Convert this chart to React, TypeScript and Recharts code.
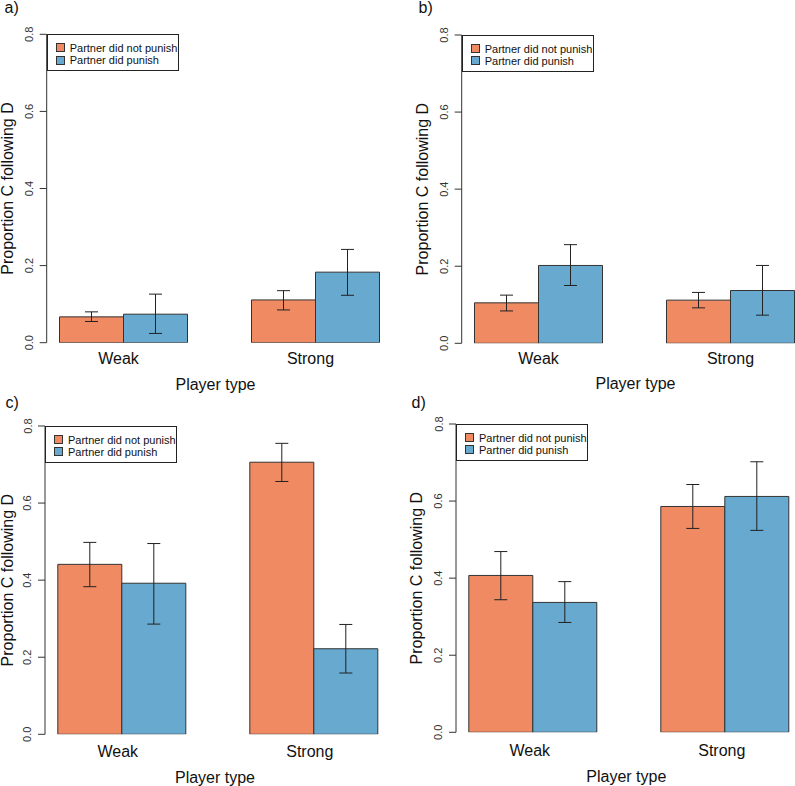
import React from 'react';
import { BarChart, Bar, XAxis, YAxis, ErrorBar, Legend } from 'recharts';

const categories = ['Weak', 'Strong'];
const yTicks = [0, 0.2, 0.4, 0.6, 0.8];
const seriesNames = ['Partner did not punish', 'Partner did punish'];
const panelLabels = ['a)', 'b)', 'c)', 'd)'];
const xTitle = 'Player type';
const yTitle = 'Proportion C following D';

// panel a
const aNotPunish = [0.067, 0.111];
const aNotPunishLow = [0.055, 0.085];
const aNotPunishHigh = [0.080, 0.135];
const aPunish = [0.074, 0.183];
const aPunishLow = [0.024, 0.123];
const aPunishHigh = [0.126, 0.242];

// panel b
const bNotPunish = [0.105, 0.112];
const bNotPunishLow = [0.084, 0.092];
const bNotPunishHigh = [0.125, 0.132];
const bPunish = [0.202, 0.137];
const bPunishLow = [0.150, 0.073];
const bPunishHigh = [0.256, 0.202];

// panel c
const cNotPunish = [0.441, 0.706];
const cNotPunishLow = [0.383, 0.656];
const cNotPunishHigh = [0.498, 0.755];
const cPunish = [0.392, 0.222];
const cPunishLow = [0.286, 0.159];
const cPunishHigh = [0.495, 0.285];

// panel d
const dNotPunish = [0.407, 0.586];
const dNotPunishLow = [0.344, 0.529];
const dNotPunishHigh = [0.469, 0.643];
const dPunish = [0.337, 0.612];
const dPunishLow = [0.285, 0.524];
const dPunishHigh = [0.391, 0.702];

const ORANGE = '#EF8A62';
const BLUE = '#67A9CF';
const INK = '#222';
const FONT = '"Liberation Sans", Arial, Helvetica, sans-serif';

function buildRows(np: number[], npLo: number[], npHi: number[], p: number[], pLo: number[], pHi: number[]) {
  return categories.map((c, i) => ({
    name: c,
    notPunish: np[i],
    punish: p[i],
    errNotPunish: [np[i] - npLo[i], npHi[i] - np[i]],
    errPunish: [p[i] - pLo[i], pHi[i] - p[i]],
  }));
}

const panelRows = [
  buildRows(aNotPunish, aNotPunishLow, aNotPunishHigh, aPunish, aPunishLow, aPunishHigh),
  buildRows(bNotPunish, bNotPunishLow, bNotPunishHigh, bPunish, bPunishLow, bPunishHigh),
  buildRows(cNotPunish, cNotPunishLow, cNotPunishHigh, cPunish, cPunishLow, cPunishHigh),
  buildRows(dNotPunish, dNotPunishLow, dNotPunishHigh, dPunish, dPunishLow, dPunishHigh),
];

const layouts = [
  { left: 0, top: 0, width: 397, height: 396, axisX: 46.7, plotTop: 34.3, plotBottom: 342.7, labelX: 4.5, labelY: 13.3, tickBase: 21.3, tickDx: -5, titleBase: 47.3, titleX: 215.5, yTitleOff: 33.4 },
  { left: 400, top: 0, width: 395, height: 396, axisX: 461.7, plotTop: 35, plotBottom: 343.3, labelX: 418.5, labelY: 13.3, tickBase: 20.7, tickDx: 0, titleBase: 45.9, titleX: 635.5, yTitleOff: 33.4 },
  { left: 0, top: 390, width: 397, height: 396, axisX: 45, plotTop: 426, plotBottom: 734.3, labelX: 5.5, labelY: 408, tickBase: 22.4, tickDx: -4, titleBase: 48.2, titleX: 215, yTitleOff: 32.4 },
  { left: 400, top: 390, width: 395, height: 396, axisX: 456, plotTop: 424, plotBottom: 732.3, labelX: 411.5, labelY: 408, tickBase: 23.4, tickDx: -3, titleBase: 49.2, titleX: 626.3, yTitleOff: 34.3 },
];

const BAR = 64;

function LegendBox() {
  const items = [
    { name: seriesNames[0], color: ORANGE },
    { name: seriesNames[1], color: BLUE },
  ];
  return (
    <div
      style={{
        position: 'relative',
        width: 132,
        height: 37,
        boxSizing: 'border-box',
        border: `1px solid ${INK}`,
        background: '#fff',
        fontFamily: FONT,
        fontSize: 11,
        color: '#111',
      }}
    >
      {items.map((it, i) => (
        <div key={it.name} style={{ position: 'absolute', left: 8, top: 6.5 + i * 12.4, height: 12, display: 'flex', alignItems: 'center', whiteSpace: 'nowrap' }}>
          <span style={{ display: 'inline-block', width: 7, height: 7, background: it.color, border: '1px solid #333', marginRight: 5 }} />
          <span style={{ lineHeight: '12px' }}>{it.name}</span>
        </div>
      ))}
    </div>
  );
}

function Panel({ idx }: { idx: number }) {
  const L = layouts[idx];
  const rows = panelRows[idx];
  const yAxisW = L.axisX - L.left;
  const mTop = L.plotTop - L.top;
  const localBottom = L.plotBottom - L.top;
  const xAxisH = L.height - localBottom;
  const plotW = L.width - yAxisW;
  const padL = -0.3 * BAR;
  const padR = plotW - (6 * BAR - 0.3 * BAR);
  const plotH = L.plotBottom - L.plotTop;

  return (
    <div style={{ position: 'absolute', left: L.left, top: L.top, width: L.width, height: L.height, fontFamily: FONT }}>
      <BarChart
        width={L.width}
        height={L.height}
        data={rows}
        margin={{ top: mTop, right: 0, bottom: 0, left: 0 }}
        barGap={0}
        barSize={BAR}
        style={{ overflow: 'visible' }}
      >
        <XAxis
          dataKey="name"
          height={xAxisH}
          axisLine={false}
          tickLine={false}
          padding={{ left: padL, right: padR }}
          interval={0}
          tick={(p: any) => (
            <text x={p.x + L.tickDx} y={localBottom + L.tickBase} textAnchor="middle" fontSize={16} fill="#111" fontFamily={FONT}>
              {p.payload.value}
            </text>
          )}
          label={() => (
            <text x={L.titleX - L.left} y={localBottom + L.titleBase} textAnchor="middle" fontSize={16} fill="#111" fontFamily={FONT}>
              {xTitle}
            </text>
          )}
        />
        <YAxis
          width={yAxisW}
          domain={[0, 0.8]}
          ticks={yTicks}
          type="number"
          allowDataOverflow
          tickSize={7}
          tickMargin={0}
          axisLine={{ stroke: '#333', strokeWidth: 1 }}
          tickLine={{ stroke: '#333', strokeWidth: 1 }}
          tick={(p: any) => {
            const tx = yAxisW - 13.5;
            return (
              <text x={tx} y={p.y} transform={`rotate(-90, ${tx}, ${p.y})`} textAnchor="middle" fontSize={11} fill="#333" fontFamily={FONT}>
                {Number(p.payload.value).toFixed(1)}
              </text>
            );
          }}
          label={() => {
            const tx = yAxisW - L.yTitleOff;
            const ty = mTop + plotH / 2;
            return (
              <text x={tx} y={ty} transform={`rotate(-90, ${tx}, ${ty})`} textAnchor="middle" fontSize={16} fill="#111" fontFamily={FONT}>
                {yTitle}
              </text>
            );
          }}
        />
        <Legend
          layout="horizontal"
          verticalAlign="middle"
          align="center"
          wrapperStyle={{ position: 'absolute', left: yAxisW, top: mTop, width: 132, height: 37 }}
          content={() => <LegendBox />}
        />
        <Bar dataKey="notPunish" name={seriesNames[0]} fill={ORANGE} stroke="#333" strokeWidth={1} isAnimationActive={false}>
          <ErrorBar dataKey="errNotPunish" width={6.5} stroke={INK} strokeWidth={1} />
        </Bar>
        <Bar dataKey="punish" name={seriesNames[1]} fill={BLUE} stroke="#333" strokeWidth={1} isAnimationActive={false}>
          <ErrorBar dataKey="errPunish" width={6.5} stroke={INK} strokeWidth={1} />
        </Bar>
      </BarChart>
      <svg width={L.width} height={40} style={{ position: 'absolute', left: 0, top: 0, pointerEvents: 'none', overflow: 'visible' }}>
        <text x={L.labelX - L.left} y={L.labelY - L.top} fontSize={16} fill="#111" fontFamily={FONT}>
          {panelLabels[idx]}
        </text>
      </svg>
    </div>
  );
}

export default function App() {
  return (
    <div style={{ position: 'absolute', left: 0, top: 0, width: 795, height: 786, overflow: 'hidden', background: '#fff' }}>
      {layouts.map((_, i) => (
        <Panel key={i} idx={i} />
      ))}
    </div>
  );
}
